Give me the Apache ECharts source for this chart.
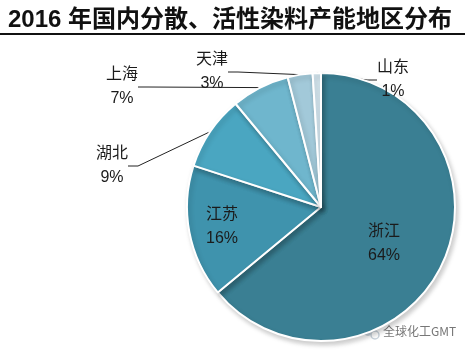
<!DOCTYPE html>
<html>
<head>
<meta charset="utf-8">
<script src="https://cdn.jsdelivr.net/npm/echarts@6/dist/echarts.min.js"></script>
<style>
  html, body { margin: 0; padding: 0; background: #fff; }
  #chart { width: 465px; height: 353px; }
</style>
</head>
<body>
<div id="chart"></div>
<script>
// 地区及占比（%）
const regions = ["浙江", "江苏", "湖北", "上海", "天津", "山东"];
const shares = [64, 16, 9, 7, 3, 1];
const colors = ["#3a7f93", "#3f93ad", "#4aa6c1", "#6fb6cd", "#a2c9d9", "#d3e5ee"];

// 标签中心位置
const labelPos = [
  [384, 244],
  [222, 227],
  [112, 166],
  [122, 87],
  [212, 72],
  [393, 80],
];

const chart = echarts.init(document.getElementById("chart"));

const option = {
  animation: false,
  title: {
    text: "2016 年国内分散、活性染料产能地区分布",
    left: 3,
    top: 3,
    textStyle: {
      fontSize: 24,
      fontWeight: "bold",
      color: "#111",
      fontFamily: "Liberation Sans, Noto Sans CJK SC",
    },
  },
  graphic: [
    {
      type: "line",
      shape: { x1: 0, y1: 34, x2: 465, y2: 34 },
      style: { stroke: "#111", lineWidth: 2 },
    },
    {
      type: "circle",
      shape: { cx: 368, cy: 331, r: 5 },
      style: { fill: "#c9d3dc" },
    },
    {
      type: "circle",
      shape: { cx: 375, cy: 335, r: 4 },
      style: { fill: "#fff", stroke: "#c9d3dc", lineWidth: 1.5 },
    },
    {
      type: "text",
      left: 383,
      top: 325,
      style: {
        text: "全球化工GMT",
        fill: "#777",
        font: "12px Noto Sans CJK SC",
      },
    },
  ],
  series: [
    {
      type: "pie",
      center: [321, 207],
      radius: 134,
      startAngle: 90,
      clockwise: true,
      avoidLabelOverlap: false,
      data: regions.map((name, i) => ({
        name: name,
        value: shares[i],
        itemStyle: { color: colors[i] },
        label: { position: i < 2 ? "inside" : "outside" },
        labelLine: { show: i >= 2 },
      })),
      itemStyle: {
        borderColor: "#fff",
        borderWidth: 2,
        shadowBlur: 5,
        shadowOffsetX: 2,
        shadowOffsetY: 3,
        shadowColor: "rgba(0,0,0,0.2)",
      },
      label: {
        show: true,
        formatter: "{b}\n{c}%",
        fontSize: 16,
        lineHeight: 24,
        color: "#1b1b1b",
        fontFamily: "Liberation Sans, Noto Sans CJK SC",
        align: "center",
      },
      labelLine: {
        lineStyle: { color: "#222", width: 1 },
        length: 10,
        length2: 10,
      },
      labelLayout: function (params) {
        const p = labelPos[params.dataIndex];
        return { x: p[0], y: p[1], align: "center", verticalAlign: "middle" };
      },
    },
  ],
};

chart.setOption(option);
</script>
</body>
</html>
